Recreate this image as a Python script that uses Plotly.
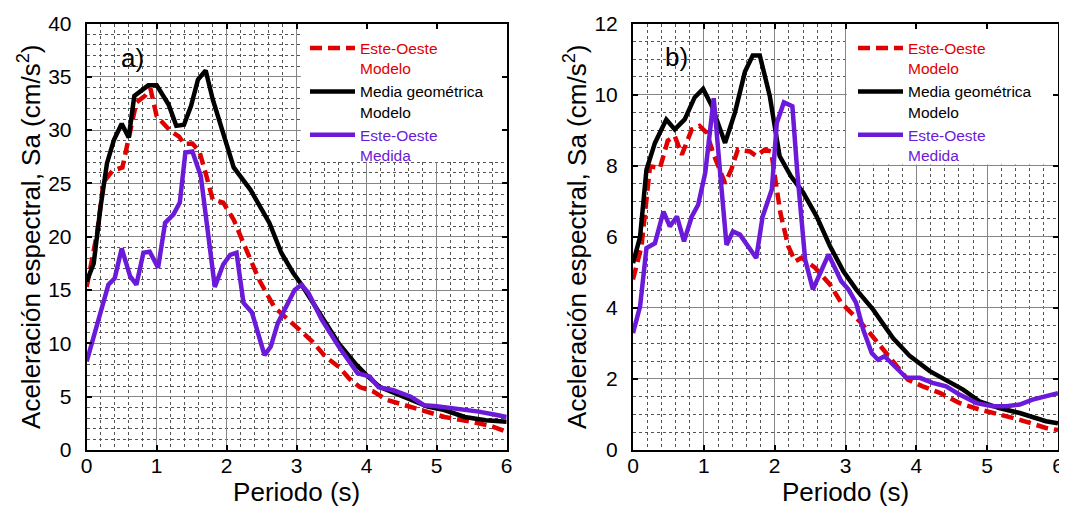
import plotly.graph_objects as go

# ---------------- data: panel a ----------------
Ta_red = [0.0, 0.15, 0.24, 0.37, 0.51, 0.59, 0.71, 0.83, 0.91, 1.0, 1.07, 1.2, 1.32, 1.39, 1.51, 1.61, 1.71, 1.8, 1.95,
          2.1, 2.24, 2.34, 2.46, 2.68, 2.92, 3.07, 3.22, 3.41, 3.6, 3.75, 3.9, 4.09, 4.29, 4.63, 4.87, 5.11, 5.5, 5.8, 6.0]
Sa_red = [15.3, 20.4, 25.1, 26.2, 26.5, 29.1, 32.6, 33.2, 33.9, 31.3, 30.8, 29.9, 29.4, 28.7, 28.75, 28.0, 25.7, 23.5, 23.2,
          21.6, 19.4, 17.8, 16.0, 13.4, 11.9, 11.1, 10.2, 8.75, 7.8, 6.7, 5.9, 5.5, 4.7, 4.06, 3.6, 3.1, 2.65, 2.2, 1.7]

Ta_black = [0.0, 0.1, 0.2, 0.29, 0.39, 0.5, 0.6, 0.68, 0.88, 1.0, 1.17, 1.28, 1.39, 1.49, 1.59, 1.7, 1.8, 1.95, 2.1,
            2.34, 2.54, 2.61, 2.78, 2.95, 3.07, 3.36, 3.6, 3.85, 4.0, 4.19, 4.53, 4.87, 5.11, 5.4, 5.7, 6.0]
Sa_black = [15.8, 17.5, 22.9, 26.9, 29.1, 30.6, 29.3, 33.2, 34.2, 34.2, 32.4, 30.4, 30.5, 32.25, 34.75, 35.6, 32.9, 29.75, 26.5,
            24.4, 22.1, 21.3, 18.5, 16.6, 15.5, 12.5, 10.0, 8.0, 7.0, 5.9, 5.0, 4.06, 3.75, 3.1, 2.8, 2.65]

Ta_pur = [0.0, 0.12, 0.21, 0.31, 0.4, 0.5, 0.62, 0.71, 0.81, 0.9, 1.02, 1.12, 1.24, 1.33, 1.41, 1.51, 1.63, 1.71, 1.78,
          1.83, 1.95, 2.05, 2.14, 2.24, 2.36, 2.54, 2.63, 2.73, 2.88, 2.97, 3.07, 3.17, 3.36, 3.6, 3.87, 4.04, 4.17,
          4.38, 4.63, 4.82, 5.0, 5.26, 5.4, 5.6, 5.84, 6.0]
Sa_pur = [8.3, 11.0, 13.1, 15.5, 16.1, 18.9, 16.3, 15.5, 18.5, 18.6, 17.1, 21.3, 22.1, 23.2, 27.9, 28.0, 25.7, 21.9, 17.9,
          15.3, 17.4, 18.3, 18.5, 13.8, 12.9, 8.9, 9.7, 11.9, 13.75, 15.0, 15.5, 14.7, 12.2, 9.7, 7.2, 6.9, 5.9,
          5.6, 5.0, 4.2, 4.1, 3.9, 3.8, 3.6, 3.3, 3.1]

# ---------------- data: panel b ----------------
Tb_red = [0.0, 0.12, 0.24, 0.38, 0.49, 0.59, 0.69, 0.83, 0.94, 1.04, 1.13, 1.3, 1.39, 1.48, 1.65, 1.74, 1.86, 1.95, 2.08,
          2.19, 2.29, 2.38, 2.57, 2.78, 2.94, 3.06, 3.2, 3.34, 3.53, 3.67, 3.88, 4.09, 4.33, 4.61, 4.89, 5.17, 5.46,
          5.83, 6.0]
Sb_red = [4.8, 5.73, 7.98, 7.93, 8.7, 8.83, 8.31, 9.02, 9.12, 8.93, 8.36, 7.5, 7.9, 8.45, 8.4, 8.27, 8.45, 8.4, 6.68,
          5.74, 5.31, 5.41, 5.13, 4.66, 4.14, 3.91, 3.62, 3.3, 2.83, 2.5, 1.98, 1.79, 1.61, 1.32, 1.14, 1.0, 0.85,
          0.62, 0.56]

Tb_black = [0.0, 0.1, 0.19, 0.31, 0.47, 0.59, 0.73, 0.87, 0.99, 1.11, 1.3, 1.44, 1.58, 1.69, 1.79, 1.93, 2.07, 2.23,
            2.4, 2.59, 2.78, 2.97, 3.15, 3.39, 3.67, 3.91, 4.19, 4.47, 4.66, 4.89, 5.17, 5.46, 5.83, 6.0]
Sb_black = [5.26, 6.0, 7.89, 8.64, 9.3, 9.02, 9.3, 9.92, 10.16, 9.69, 8.64, 9.5, 10.64, 11.1, 11.1, 9.97, 8.27, 7.7,
            7.25, 6.58, 5.74, 5.03, 4.52, 3.95, 3.15, 2.64, 2.22, 1.93, 1.7, 1.37, 1.18, 1.04, 0.81, 0.75]

Tb_pur = [0.0, 0.1, 0.19, 0.31, 0.43, 0.52, 0.62, 0.72, 0.83, 0.92, 1.02, 1.14, 1.23, 1.32, 1.41, 1.51, 1.74, 1.83,
          1.96, 2.03, 2.13, 2.25, 2.32, 2.43, 2.54, 2.64, 2.76, 2.94, 3.04, 3.15, 3.25, 3.37, 3.46, 3.55, 3.67, 3.86,
          4.05, 4.23, 4.42, 4.61, 4.85, 5.08, 5.27, 5.46, 5.64, 5.88, 6.0]
Sb_pur = [3.29, 4.04, 5.68, 5.82, 6.71, 6.29, 6.57, 5.87, 6.57, 6.9, 7.8, 9.9, 7.8, 5.77, 6.15, 6.06, 5.4, 6.57,
          7.33, 9.2, 9.78, 9.67, 7.8, 5.36, 4.52, 4.99, 5.5, 4.75, 4.52, 4.14, 3.39, 2.73, 2.54, 2.64, 2.4, 2.03,
          2.03, 1.89, 1.79, 1.56, 1.32, 1.23, 1.23, 1.28, 1.42, 1.56, 1.6]

x_ticks = [0, 1, 2, 3, 4, 5, 6]
ya_ticks = [0, 5, 10, 15, 20, 25, 30, 35, 40]
yb_ticks = [0, 2, 4, 6, 8, 10, 12]

RED = "#E00000"
BLACK = "#000000"
PURPLE = "#6A1AD8"
FONT = "Liberation Sans, Arial, sans-serif"

names = [
    f"<span style='color:{RED}'>Este-Oeste<br>Modelo</span>",
    f"<span style='color:{BLACK}'>Media geométrica<br>Modelo</span>",
    f"<span style='color:{PURPLE}'>Este-Oeste<br>Medida</span>",
]

fig = go.Figure()

def add_panel(xa, ya, leg, T1, S1, T2, S2, T3, S3):
    fig.add_trace(go.Scatter(x=T1, y=S1, mode="lines", name=names[0], legend=leg, xaxis=xa, yaxis=ya,
                             line=dict(color=RED, width=4.5, dash="12px,6px")))
    fig.add_trace(go.Scatter(x=T2, y=S2, mode="lines", name=names[1], legend=leg, xaxis=xa, yaxis=ya,
                             line=dict(color=BLACK, width=4.5)))
    fig.add_trace(go.Scatter(x=T3, y=S3, mode="lines", name=names[2], legend=leg, xaxis=xa, yaxis=ya,
                             line=dict(color=PURPLE, width=4.5)))

add_panel("x", "y", "legend", Ta_red, Sa_red, Ta_black, Sa_black, Ta_pur, Sa_pur)
add_panel("x2", "y2", "legend2", Tb_red, Sb_red, Tb_black, Sb_black, Tb_pur, Sb_pur)

# page body has an 8px margin: the figure is laid out for the remaining visible area
W, H = 1059, 504
ydom = [(H - 442) / H, (H - 15.5) / H]
xdom_a = [78.7 / W, 498.7 / W]
xdom_b = [625 / W, 1050 / W]

def xaxis_cfg(dom):
    return dict(domain=dom, range=[0, 6], tickvals=x_ticks, ticks="inside", ticklen=5, tickwidth=1.5,
                tickcolor="black", showline=True, linecolor="black", linewidth=2, mirror="ticks",
                showgrid=True, gridcolor="#858585", gridwidth=1.2, zeroline=False,
                minor=dict(dtick=0.2, showgrid=True, gridcolor="#555555", griddash="dot", gridwidth=1),
                tickfont=dict(family=FONT, size=21, color="black"),
                title=dict(text="Periodo (s)", font=dict(family=FONT, size=26, color="black"), standoff=7),
                automargin=False, ticklabelstandoff=-4)

def yaxis_cfg(rng, ticks, minor, anchor):
    return dict(domain=ydom, range=rng, tickvals=ticks, ticks="inside", ticklen=5, tickwidth=1.5,
                tickcolor="black", showline=True, linecolor="black", linewidth=2, mirror="ticks",
                showgrid=True, gridcolor="#858585", gridwidth=1.2, zeroline=False, anchor=anchor,
                minor=dict(dtick=minor, showgrid=True, gridcolor="#555555", griddash="dot", gridwidth=1),
                tickfont=dict(family=FONT, size=21, color="black"),
                title=dict(text="Aceleración espectral, Sa (cm/s<sup>2</sup>)",
                           font=dict(family=FONT, size=26, color="black"), standoff=0),
                automargin=False, ticklabelstandoff=9)

legend_common = dict(bgcolor="rgba(0,0,0,0)", borderwidth=0, font=dict(family=FONT, size=15.5, color="black"),
                     valign="top", itemwidth=45, tracegroupgap=0, xanchor="left", yanchor="top",
                     itemclick=False, itemdoubleclick=False)

fig.update_layout(
    width=W, height=H,
    margin=dict(l=0, r=0, t=0, b=0),
    paper_bgcolor="white", plot_bgcolor="white",
    font=dict(family=FONT, color="black"),
    xaxis=xaxis_cfg(xdom_a),
    yaxis=yaxis_cfg([0, 40], ya_ticks, 1, "x"),
    xaxis2=dict(xaxis_cfg(xdom_b), anchor="y2"),
    yaxis2=yaxis_cfg([0, 12], yb_ticks, 0.5, "x2"),
    legend=dict(legend_common, x=297 / W, y=(H - 23.5) / H),
    legend2=dict(legend_common, x=845 / W, y=(H - 23.5) / H),
    showlegend=True,
    shapes=[
        dict(type="rect", xref="x", yref="y", x0=3.06, x1=5.99, y0=27.0, y1=39.95,
             fillcolor="white", line=dict(width=0), layer="between"),
        dict(type="rect", xref="x2", yref="y2", x0=3.02, x1=5.99, y0=8.03, y1=11.985,
             fillcolor="white", line=dict(width=0), layer="between"),
    ],
    annotations=[
        dict(text="a)", x=0.66, y=36.8, xref="x", yref="y", showarrow=False,
             font=dict(family=FONT, size=26, color="black")),
        dict(text="b)", x=0.62, y=11.05, xref="x2", yref="y2", showarrow=False,
             font=dict(family=FONT, size=26, color="black")),
    ],
)

fig.write_html("out.html")
